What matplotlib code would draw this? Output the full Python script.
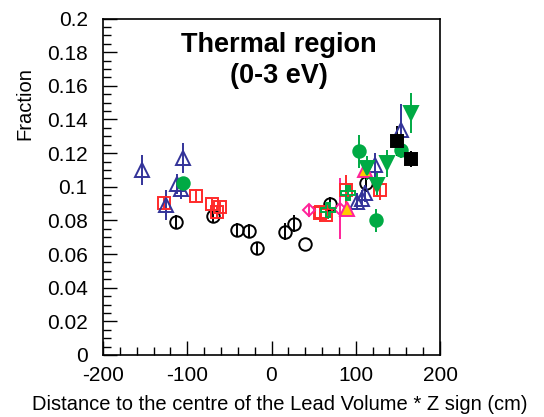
import matplotlib
matplotlib.use("Agg")
import matplotlib.pyplot as plt
from matplotlib.ticker import MultipleLocator

plt.rcParams['font.family'] = ['Liberation Sans', 'DejaVu Sans']

# Black open circles
circ_x = [-113, -69, -41, -27, -17, 16, 27, 40, 70, 112]
circ_y = [0.079, 0.0826, 0.0745, 0.0737, 0.0634, 0.0733, 0.078, 0.066, 0.090, 0.102]
circ_e = [0.004, 0.004, 0.004, 0.004, 0.004, 0.005, 0.005, 0.0, 0.004, 0.005]

# Blue open triangles
tri_x = [-154, -105, -112, -107, -125, 101, 107, 111, 123, 154]
tri_y = [0.110, 0.117, 0.1016, 0.0985, 0.089, 0.091, 0.093, 0.096, 0.113, 0.134]
tri_e = [0.009, 0.009, 0.006, 0.006, 0.009, 0.005, 0.005, 0.005, 0.007, 0.015]

# Red open squares
sq_x = [-127.5, -90, -71, -61.5, -64.5, 57, 59, 65, 89, 128.5]
sq_y = [0.0905, 0.0947, 0.090, 0.088, 0.085, 0.0845, 0.085, 0.083, 0.098, 0.098]
sq_e = [0.004, 0.004, 0.003, 0.003, 0.003, 0.004, 0.003, 0.003, 0.009, 0.006]

# Green filled circles
gc_x = [-105.6, 104, 123.5, 154]
gc_y = [0.102, 0.121, 0.080, 0.122]
gc_e = [0.003, 0.010, 0.007, 0.005]

# Pink open diamonds
dia_x = [45, 81]
dia_y = [0.086, 0.087]
dia_e = [0.004, 0.018]

# Yellow triangles
yt_x = [90, 111]
yt_y = [0.087, 0.110]
yt_e = [0.003, 0.004]

# Green open crosses
cr_x = [67, 91]
cr_y = [0.086, 0.096]
cr_e = [0.005, 0.004]

# Green filled down triangles
gd_x = [112.8, 125.5, 137, 165]
gd_y = [0.111, 0.101, 0.114, 0.144]
gd_e = [0.007, 0.007, 0.008, 0.012]

# Black filled squares
bs_x = [149, 165]
bs_y = [0.127, 0.1165]
bs_e = [0.009, 0.005]

y_ticks = [0, 0.02, 0.04, 0.06, 0.08, 0.1, 0.12, 0.14, 0.16, 0.18, 0.2]
y_labels = ['0', '0.02', '0.04', '0.06', '0.08', '0.1', '0.12', '0.14', '0.16', '0.18', '0.2']
x_ticks = [-200, -100, 0, 100, 200]
x_labels = ['-200', '-100', '0', '100', '200']

fig = plt.figure(figsize=(5.44, 4.17), dpi=100)
ax = fig.add_axes([103/544, 1-355/417, 337/544, 336.5/417])

blue = '#333399'
red = '#ff2a2a'
green = '#00aa44'
pink = '#ff2299'
yellow = '#ffcc00'

def eb(x, y, e, marker, color, mfc, ms=9, mec=None, mew=1.4):
    ax.errorbar(x, y, yerr=e, fmt=marker, color=color, mfc=mfc,
                mec=mec if mec else color, ms=ms, mew=mew,
                elinewidth=1.4, capsize=0, ecolor=color)

eb(circ_x, circ_y, circ_e, 'o', 'black', 'none')
eb(sq_x, sq_y, sq_e, 's', red, 'none')
eb(tri_x, tri_y, tri_e, '^', blue, 'none', ms=9.5)
eb(dia_x, dia_y, dia_e, 'D', pink, 'none', ms=6.5)
eb(cr_x, cr_y, cr_e, 'P', green, 'none', ms=9.5)
eb(yt_x, yt_y, yt_e, '^', pink, yellow, ms=9.5, mec=pink)
eb(gc_x, gc_y, gc_e, 'o', green, green)
eb(gd_x, gd_y, gd_e, 'v', green, green, ms=9.5)
eb(bs_x, bs_y, bs_e, 's', 'black', 'black')

ax.set_xlim(-200, 200)
ax.set_ylim(0, 0.2)
ax.xaxis.set_minor_locator(MultipleLocator(20))
ax.yaxis.set_minor_locator(MultipleLocator(0.005))
ax.set_yticks(y_ticks)
ax.set_yticklabels(y_labels)
ax.set_xticks(x_ticks)
ax.set_xticklabels(x_labels)
ax.tick_params(which='both', direction='in', top=False, right=False, labelsize=15)
ax.tick_params(which='major', length=10, width=1)
ax.tick_params(which='minor', length=5.5, width=1)
ax.tick_params(axis='y', pad=11)
ax.tick_params(axis='x', pad=8)
for s in ax.spines.values():
    s.set_linewidth(1.2)

tx = (279 - 103) / 337
ax.text(tx, 1-(45-18.5)/336.5, 'Thermal region', transform=ax.transAxes, ha='center', va='center',
        fontsize=19.5, fontweight='bold')
ax.text(tx, 1-(76-18.5)/336.5, '(0-3 eV)', transform=ax.transAxes, ha='center', va='center',
        fontsize=19.5, fontweight='bold')

fig.text(280/544, 1-405/417, 'Distance to the centre of the Lead Volume * Z sign (cm)',
         ha='center', va='center', fontsize=14.5)
fig.text(25/544, 1-104/417, 'Fraction', rotation=90, ha='center', va='center', fontsize=14.5)

fig.savefig('out.png', dpi=100)
